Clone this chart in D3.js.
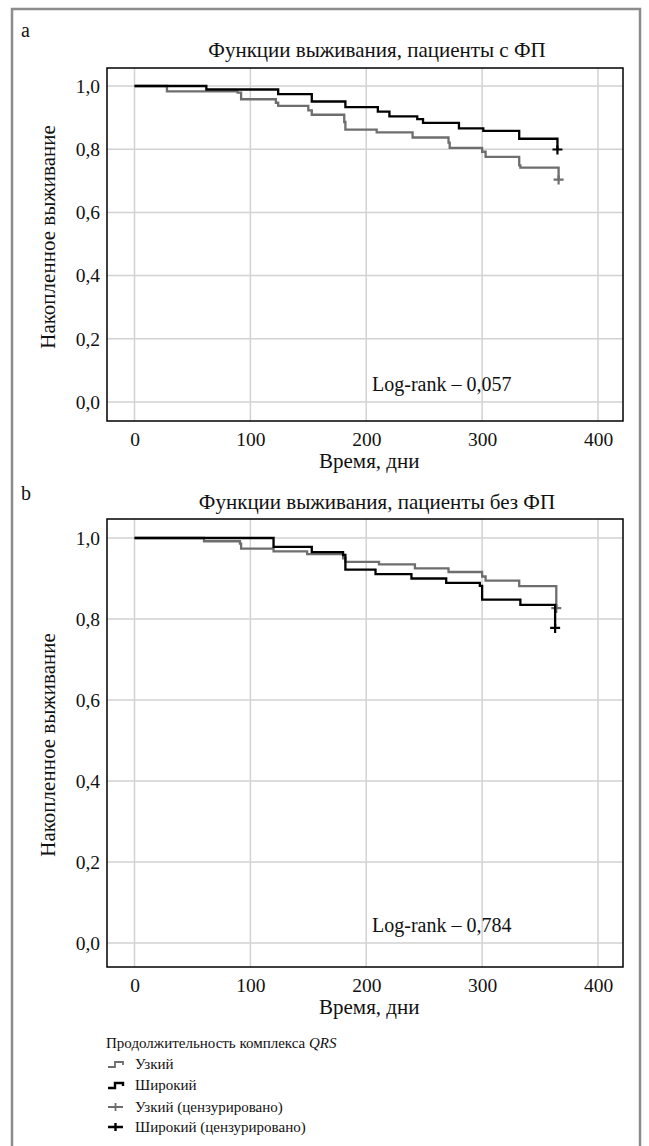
<!DOCTYPE html>
<html>
<head>
<meta charset="utf-8">
<title>Функции выживания</title>
<script src="https://d3js.org/d3.v7.min.js"></script>
<style>
  body { margin: 0; background: #fff; }
  svg { display: block; }
  .grid line { stroke: #d2d2d2; stroke-width: 1.5; }
  .frame { fill: none; stroke: #000; stroke-width: 1.5; }
</style>
</head>
<body>
<div id="chart"></div>
<script>
// ---- values ----
var xTicks = [0, 100, 200, 300, 400];
var yTicks = [0, 0.2, 0.4, 0.6, 0.8, 1.0];
var yTickLabels = ["0,0", "0,2", "0,4", "0,6", "0,8", "1,0"];

var panelLetters = ["a", "b"];
var panelTitles = ["Функции выживания, пациенты с ФП", "Функции выживания, пациенты без ФП"];
var logRankLabels = ["Log-rank – 0,057", "Log-rank – 0,784"];
var xLabel = "Время, дни";
var yLabel = "Накопленное выживание";

// panel a (with AF): step times (days) and cumulative survival
var aNarrowDays = [0, 28, 89, 92, 122, 124, 150, 153, 181, 182, 209, 240, 271, 272, 300, 303, 332, 333, 366];
var aNarrowSurv = [1.0, 0.983, 0.979, 0.958, 0.947, 0.937, 0.923, 0.909, 0.886, 0.862, 0.853, 0.837, 0.821, 0.804, 0.792, 0.776, 0.749, 0.742, 0.704];
var aWideDays = [0, 62, 124, 153, 182, 210, 220, 244, 249, 280, 301, 332, 365];
var aWideSurv = [1.0, 0.989, 0.974, 0.951, 0.933, 0.919, 0.904, 0.895, 0.883, 0.866, 0.858, 0.833, 0.799];

// panel b (without AF)
var bNarrowDays = [0, 60, 91, 92, 120, 149, 180, 182, 211, 242, 271, 300, 303, 332, 364];
var bNarrowSurv = [1.0, 0.992, 0.986, 0.974, 0.967, 0.960, 0.950, 0.941, 0.935, 0.925, 0.916, 0.905, 0.895, 0.881, 0.827];
var bWideDays = [0, 120, 153, 180, 182, 208, 239, 269, 298, 300, 333, 363];
var bWideSurv = [1.0, 0.978, 0.965, 0.958, 0.922, 0.911, 0.900, 0.889, 0.882, 0.848, 0.835, 0.778];

var legendTitle = "Продолжительность комплекса ";
var legendTitleItalic = "QRS";
var legendLabels = ["Узкий", "Широкий", "Узкий (цензурировано)", "Широкий (цензурировано)"];

var narrowColor = "#6e6e6e", wideColor = "#000";
var serif = "'Liberation Serif', 'Times New Roman', Times, serif";

// ---- layout ----
var W = 649, H = 1146;
var layouts = [
  { top: 68, bottom: 421, y1: 86, y0: 402, letterY: 37, titleY: 57, yLabelY: 237 },
  { top: 519, bottom: 967, y1: 538, y0: 943, letterY: 500, titleY: 509, yLabelY: 745 }
];
var frameLeft = 107, frameRight = 623;

var svg = d3.select("#chart").append("svg")
  .attr("width", W)
  .attr("height", H)
  .attr("font-family", serif);

// outer grey border of the figure
svg.append("rect")
  .attr("x", 12).attr("y", 9)
  .attr("width", 628).attr("height", H + 20)
  .attr("fill", "none")
  .attr("stroke", "#8c8c8c")
  .attr("stroke-width", 2.5);

function zip(a, b) { return a.map(function (d, i) { return [d, b[i]]; }); }

var panelData = [
  { narrow: zip(aNarrowDays, aNarrowSurv), wide: zip(aWideDays, aWideSurv) },
  { narrow: zip(bNarrowDays, bNarrowSurv), wide: zip(bWideDays, bWideSurv) }
];

// x scale is the same for both panels
var x = d3.scaleLinear().domain([0, 400]).range([134.5, 598]);

function addText(sel, size) {
  return sel.append("text")
    .attr("font-family", serif)
    .attr("font-size", size)
    .attr("fill", "#111");
}

function drawPanel(i) {
  var L = layouts[i];
  var y = d3.scaleLinear().domain([0, 1]).range([L.y0, L.y1]);
  var g = svg.append("g");

  // grid
  var grid = g.append("g").attr("class", "grid");
  grid.selectAll(".vx").data(xTicks).enter().append("line")
    .attr("x1", function (d) { return x(d); }).attr("x2", function (d) { return x(d); })
    .attr("y1", L.top).attr("y2", L.bottom);
  grid.selectAll(".hy").data(yTicks).enter().append("line")
    .attr("y1", function (d) { return y(d); }).attr("y2", function (d) { return y(d); })
    .attr("x1", frameLeft).attr("x2", frameRight);

  // axes (labels only, grid and frame drawn separately)
  var xAxis = g.append("g")
    .attr("transform", "translate(0," + L.bottom + ")")
    .call(d3.axisBottom(x).tickValues(xTicks).tickSize(0).tickPadding(11));
  xAxis.attr("font-family", serif).attr("font-size", 19.5);
  xAxis.select(".domain").remove();
  xAxis.selectAll("text").attr("fill", "#111");

  var yAxis = g.append("g")
    .attr("transform", "translate(" + frameLeft + ",0)")
    .call(d3.axisLeft(y).tickValues(yTicks).tickSize(0).tickPadding(7)
      .tickFormat(function (d, k) { return yTickLabels[k]; }));
  yAxis.attr("font-family", serif).attr("font-size", 19.5);
  yAxis.select(".domain").remove();
  yAxis.selectAll("text").attr("fill", "#111");

  // frame
  g.append("rect").attr("class", "frame")
    .attr("x", frameLeft).attr("y", L.top)
    .attr("width", frameRight - frameLeft).attr("height", L.bottom - L.top);

  // log-rank note
  addText(g, 20)
    .attr("x", 372).attr("y", y(0) - 11)
    .text(logRankLabels[i]);

  // survival curves
  var line = d3.line().curve(d3.curveStepAfter)
    .x(function (d) { return x(d[0]); })
    .y(function (d) { return y(d[1]); });

  var series = [
    { data: panelData[i].narrow, color: narrowColor },
    { data: panelData[i].wide, color: wideColor }
  ];
  series.forEach(function (s) {
    g.append("path").datum(s.data)
      .attr("fill", "none")
      .attr("stroke", s.color)
      .attr("stroke-width", 2.3)
      .attr("d", line);
    // censor mark at the last point
    var last = s.data[s.data.length - 1];
    var cx = x(last[0]), cy = y(last[1]);
    g.append("path")
      .attr("d", "M" + (cx - 5) + "," + cy + "H" + (cx + 5) + "M" + cx + "," + (cy - 4) + "V" + (cy + 5))
      .attr("stroke", s.color)
      .attr("stroke-width", 2.2);
  });

  // titles and labels
  addText(svg, 20)
    .attr("x", 21).attr("y", L.letterY)
    .text(panelLetters[i]);
  addText(svg, 21)
    .attr("x", 377).attr("y", L.titleY)
    .attr("text-anchor", "middle")
    .text(panelTitles[i]);
  addText(svg, 21)
    .attr("x", x(200) + 3).attr("y", L.bottom + 47)
    .attr("text-anchor", "middle")
    .text(xLabel);
  addText(svg, 21)
    .attr("transform", "translate(55," + L.yLabelY + ") rotate(-90)")
    .attr("text-anchor", "middle")
    .text(yLabel);
}

drawPanel(0);
drawPanel(1);

// ---- legend ----
var legend = svg.append("g").attr("transform", "translate(106,0)");
var lt = addText(legend, 15).attr("x", 0).attr("y", 1048);
lt.append("tspan").text(legendTitle);
lt.append("tspan").attr("font-style", "italic").text(legendTitleItalic);

var legendRows = [1064, 1085, 1107, 1127];
var legendColors = [narrowColor, wideColor, narrowColor, wideColor];
legendLabels.forEach(function (lab, k) {
  var cy = legendRows[k];
  var icon = k < 2
    ? "M2," + (cy + 3) + "H9V" + (cy - 2) + "H17V" + (cy + 1)
    : "M2," + cy + "H17M9.5," + (cy - 4) + "V" + (cy + 4);
  legend.append("path")
    .attr("d", icon)
    .attr("fill", "none")
    .attr("stroke", legendColors[k])
    .attr("stroke-width", k % 2 ? 2.4 : 1.8);
  addText(legend, 15)
    .attr("x", 29).attr("y", cy + 5)
    .text(lab);
});
</script>
</body>
</html>
